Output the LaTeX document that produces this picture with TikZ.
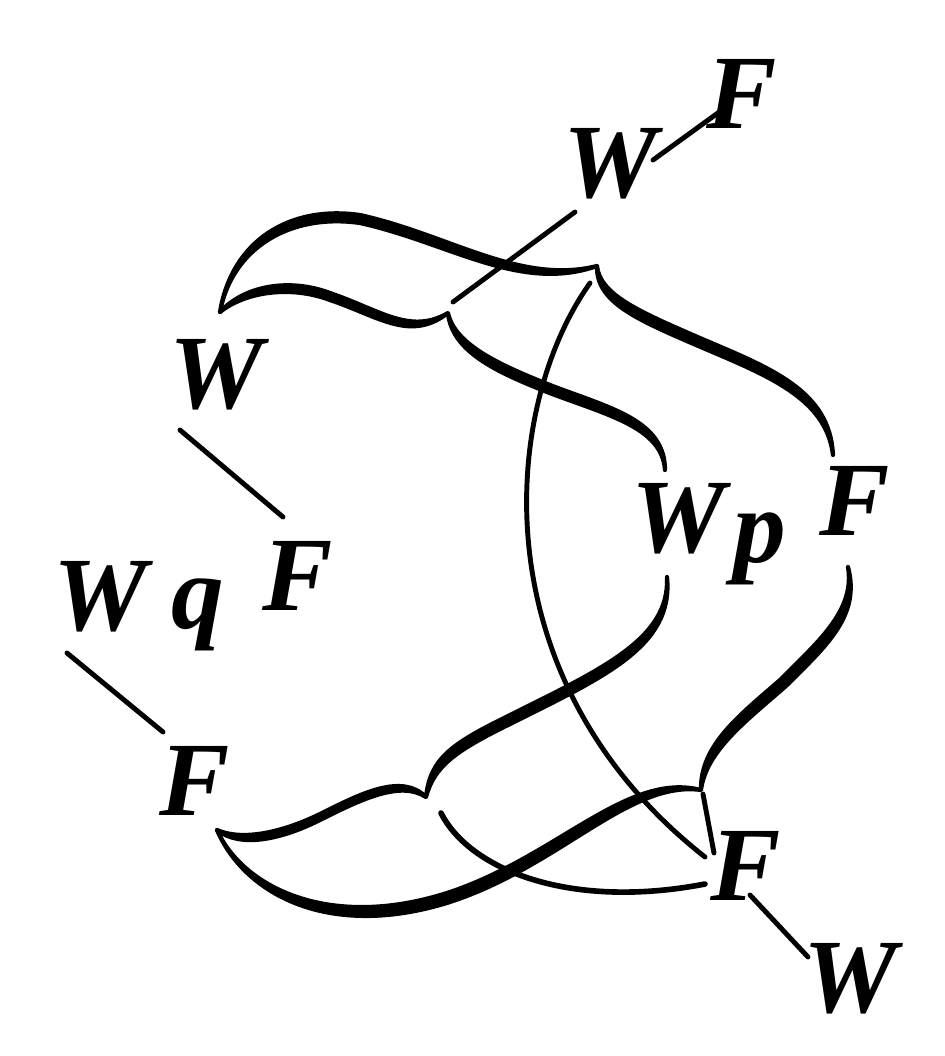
\documentclass[tikz,border=0pt]{standalone}
\usepackage{fontspec}
\setmainfont{Liberation Serif}
\usetikzlibrary{calc}

% half of a brace: thin at both tips, swollen in the middle
\newcommand{\swell}[8]{%
  \filldraw[line width=1.2pt, line join=round, line cap=round]
    (#1) .. controls (#2) and (#3) .. (#4) .. controls (#5) and (#6) .. (#7)
    .. controls ($(#6)+(#8)$) and ($(#5)+(#8)$) .. ($(#4)+(#8)$)
    .. controls ($(#3)+(#8)$) and ($(#2)+(#8)$) .. (#1) -- cycle;}

\begin{document}
\begin{tikzpicture}[x=0.01cm, y=-0.01cm,
  letter/.style={inner sep=0pt, anchor=base,
    font=\fontsize{30}{36}\selectfont\bfseries\itshape},
  link/.style={line width=1.4pt, line cap=round}]

  \useasboundingbox (0,0) rectangle (945,1056);

  % Buchstaben
  \node[letter] (wA) at (610,197) {W};
  \node[letter] (fA) at (742,128) {F};
  \node[letter] (wB) at (216,408) {W};
  \node[letter] (fB) at (298,610) {F};
  \node[letter] (wC) at (100,630) {W};
  \node[letter] (qC) at (198,628) {q};
  \node[letter] (fC) at (195,815) {F};
  \node[letter] (wD) at (678,552) {W};
  \node[letter] (pD) at (760,562) {p};
  \node[letter] (fD) at (855,535) {F};
  \node[letter] (fE) at (746,900) {F};
  \node[letter] (wE) at (850,1012) {W};
  \coordinate (tipA) at (453,302);

  % kurze Striche zwischen den Buchstaben
  \draw[link] ($(wA.base)+(43,-37)$) -- ($(fA.base)+(-20,-18)$);
  \draw[link] ($(wA.base)+(-35,15)$) -- (tipA);
  \draw[link] ($(wB.base)+(-36,22)$) -- ($(fB.base)+(-15,-93)$);
  \draw[link] ($(wC.base)+(-33,23)$) -- ($(fC.base)+(-32,-83)$);
  \draw[link] ($(fE.base)+(4,-5)$) -- ($(wE.base)+(-42,-55)$);

  % obere Klammern
  \swell{220,312}{232,240}{290,205}{360,215}{450,235}{520,285}{597,266}{0,8}
  \swell{597,266}{600,295}{640,312}{700,338}{770,368}{830,390}{833,455}{-4,7}
  \swell{220,312}{245,285}{290,278}{330,293}{380,310}{410,335}{448,313}{0,7}
  \swell{448,313}{455,345}{500,365}{550,385}{610,408}{665,420}{665,470}{-3,7}

  % untere Klammern
  \swell{217,830}{240,848}{280,840}{320,820}{360,800}{400,780}{426,797}{2,-7}
  \swell{426,797}{430,760}{450,745}{500,720}{600,670}{670,640}{667,577}{4,7}
  \swell{217,830}{245,895}{330,940}{450,902}{560,866}{630,780}{701,790}{-3,-9}
  \swell{701,790}{700,745}{740,715}{780,680}{820,640}{855,610}{848,567}{6,6}
  \draw[link, line width=1.6pt] (441,813) .. controls (470,870) and (570,910) .. (705,884);

  % langer duenner Bogen
  \draw[link] (590,283) .. controls (500,410) and (480,680) .. (705,857);
  \draw[link] (703,794) -- (714,853);

\end{tikzpicture}
\end{document}
